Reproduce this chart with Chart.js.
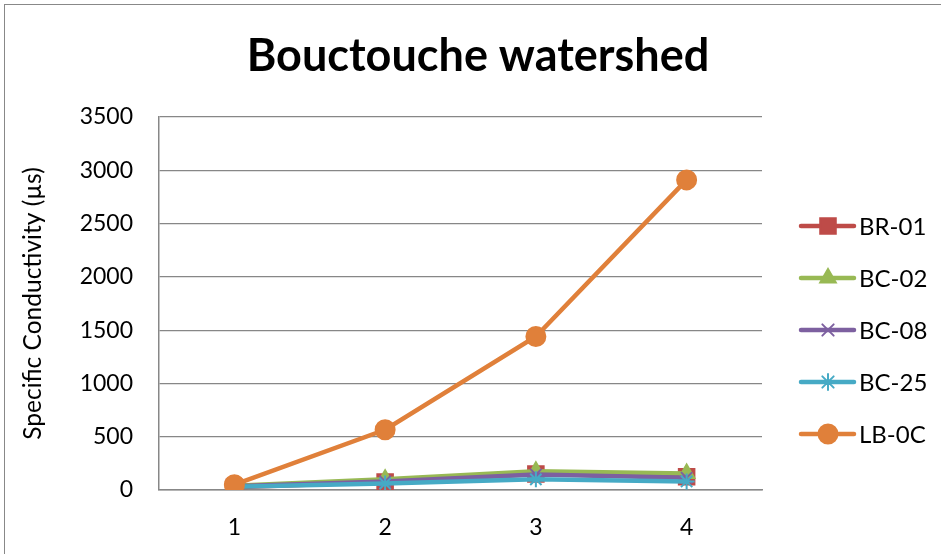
<!DOCTYPE html>
<html>
<head>
<meta charset="utf-8">
<script src="https://cdn.jsdelivr.net/npm/chart.js@4/dist/chart.umd.min.js"></script>
<style>
  html, body { margin: 0; padding: 0; background: #fff; }
  #wrap { width: 941px; height: 554px; position: relative; }
</style>
</head>
<body>
<div id="wrap"><canvas id="c" width="941" height="554"></canvas></div>
<script>
// Bouctouche watershed — specific conductivity per sampling round
const rounds = ['1', '2', '3', '4'];
const seriesNames = ['BR-01', 'BC-02', 'BC-08', 'BC-25', 'LB-0C'];
const br01 = [25, 75, 150, 125];
const bc02 = [40, 100, 175, 155];
const bc08 = [35, 80, 145, 115];
const bc25 = [30, 60, 100, 80];
const lb0c = [50, 565, 1440, 2910];
const yTicks = [0, 500, 1000, 1500, 2000, 2500, 3000, 3500];

const colors = ['#BE4B48', '#98B954', '#7D60A0', '#46AAC5', '#E0803A'];
const markers = ['rect', 'triangle', 'crossRot', 'star', 'circle'];
const radii = [11, 9, 8, 8, 9.5];
const values = [br01, bc02, bc08, bc25, lb0c];

const FONT = 'Lato, "Open Sans", sans-serif';

function makeDataset(i) {
    return {
        label: seriesNames[i],
        data: values[i],
        borderColor: colors[i],
        backgroundColor: colors[i],
        pointBackgroundColor: colors[i],
        pointBorderColor: colors[i],
        pointStyle: markers[i],
        pointRadius: radii[i],
        pointHoverRadius: radii[i],
        pointBorderWidth: 2,
        borderWidth: 4.5,
        tension: 0,
        fill: false,
        order: seriesNames.length - i   // later series on top, like Excel
    };
}

// white background, outer frame and the centred chart title
const framePlugin = {
    id: 'frame',
    beforeDraw(chart) {
        const ctx = chart.ctx;
        ctx.save();
        ctx.fillStyle = '#fff';
        ctx.fillRect(0, 0, chart.width, chart.height);
        ctx.strokeStyle = '#888';
        ctx.lineWidth = 1;
        ctx.strokeRect(4.5, 4.5, chart.width, chart.height);
        ctx.fillStyle = '#000';
        ctx.font = 'bold 45px ' + FONT;
        ctx.textAlign = 'center';
        ctx.textBaseline = 'middle';
        ctx.fillText('Bouctouche watershed', 478, 56);
        ctx.restore();
    }
};

// Excel-style legend: line with marker, stacked on the right
const sideLegend = {
    id: 'sideLegend',
    afterDraw(chart) {
        const ctx = chart.ctx;
        ctx.save();
        chart.data.datasets.forEach(function (ds, i) {
            const y = 226 + i * 52;
            ctx.strokeStyle = ds.borderColor;
            ctx.lineWidth = 4.5;
            ctx.lineCap = 'round';
            ctx.beginPath();
            ctx.moveTo(801, y);
            ctx.lineTo(854, y);
            ctx.stroke();
            ctx.fillStyle = ds.pointBackgroundColor;
            ctx.strokeStyle = ds.pointBorderColor;
            ctx.lineWidth = 2;
            Chart.helpers.drawPoint(ctx, { pointStyle: ds.pointStyle, radius: ds.pointRadius, borderWidth: 2, rotation: 0 }, 828, y);
            ctx.fillStyle = '#000';
            ctx.font = '24px ' + FONT;
            ctx.textBaseline = 'middle';
            ctx.textAlign = 'left';
            ctx.fillText(ds.label, 859, y + 1);
        });
        ctx.restore();
    }
};

new Chart(document.getElementById('c'), {
    type: 'line',
    data: {
        labels: rounds,
        datasets: seriesNames.map(function (_, i) { return makeDataset(i); })
    },
    options: {
        responsive: false,
        animation: false,
        layout: { padding: { left: 0, right: 179, top: 117, bottom: 0 } },
        plugins: {
            legend: { display: false },
            tooltip: { enabled: false },
            title: { display: false }
        },
        scales: {
            x: {
                offset: true,
                grid: { display: false },
                border: { display: true, color: '#878787', width: 1.5 },
                ticks: { color: '#000', font: { family: FONT, size: 23 }, padding: 16, maxRotation: 0 },
                afterFit(scale) { scale.height = 64; }
            },
            y: {
                min: 0,
                max: 3500,
                afterBuildTicks(scale) { scale.ticks = yTicks.map(function (v) { return { value: v }; }); },
                grid: { color: '#878787', drawTicks: false, lineWidth: 1.2 },
                border: { display: true, color: '#878787', width: 1.5 },
                ticks: {
                    color: '#000',
                    font: { family: FONT, size: 23 },
                    padding: 26,
                    callback: function (v) { return String(v); }
                },
                title: {
                    display: true,
                    text: 'Specific Conductivity (µs)',
                    color: '#000',
                    font: { family: FONT, size: 24.5 },
                    padding: { top: 18, bottom: 0 }
                },
                afterFit(scale) { scale.width = 159; }
            }
        }
    },
    plugins: [framePlugin, sideLegend]
});
</script>
</body>
</html>
